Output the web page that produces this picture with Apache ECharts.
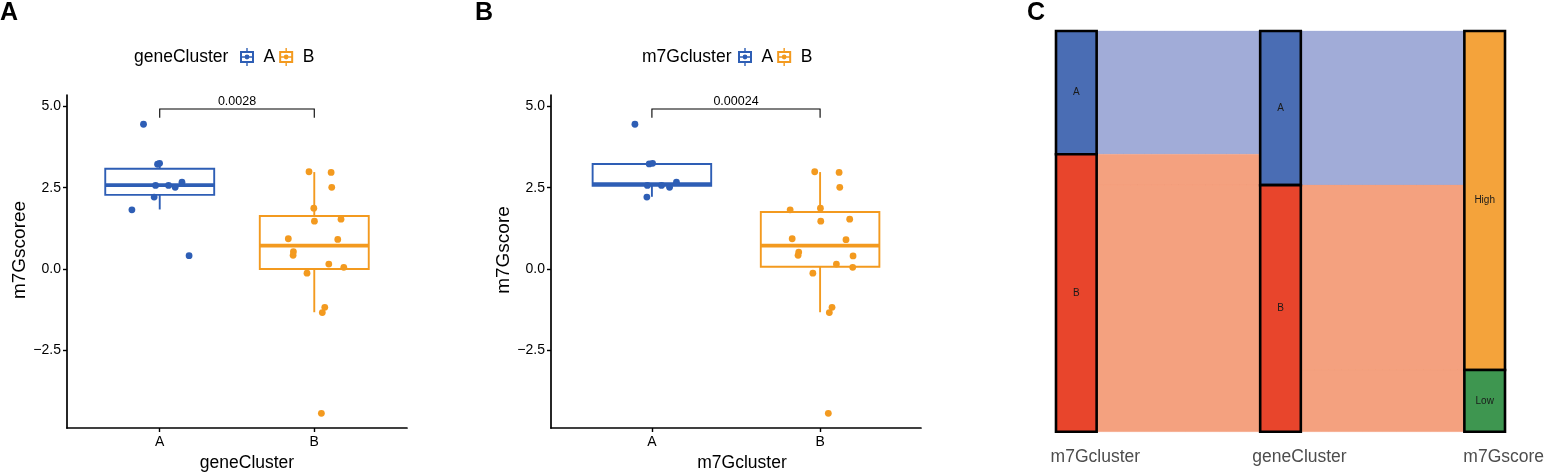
<!DOCTYPE html>
<html><head><meta charset="utf-8">
<script src="https://cdn.jsdelivr.net/npm/echarts@6/dist/echarts.min.js"></script>
<style>html,body{margin:0;padding:0;background:#fff}#c{width:1550px;height:474px}</style>
</head><body><div id="c"></div>
<script>
// ---------------- data ----------------
const groups = ['A', 'B'];
const yTicks = [-2.5, 0, 2.5, 5];

// Panel A : geneCluster
const geneA_vals = [4.45, 3.22, 3.25, 1.82, 2.57, 2.57, 2.51, 2.67, 2.21, 0.41];
const geneA_jit  = [-0.105, -0.014, -0.001, -0.18, -0.027, 0.057, 0.10, 0.144, -0.036, 0.19];
const geneB_vals = [2.99, 2.97, 2.51, 1.87, 1.47, 1.53, 0.93, 0.91, 0.53, 0.42, 0.15, 0.05, -0.13, -1.18, -1.34, -4.44];
const geneB_jit  = [-0.034, 0.109, 0.113, -0.003, 0.001, 0.173, -0.168, 0.152, -0.135, -0.137, 0.094, 0.191, -0.047, 0.068, 0.052, 0.046];
const geneBoxA = [1.83, 2.28, 2.58, 3.08, 3.25];   // lower whisker, Q1, median, Q3, upper whisker
const geneBoxB = [-1.33, 0.0, 0.72, 1.63, 2.98];
const geneP = '0.0028';

// Panel B : m7Gcluster
const m7gA_vals = [4.45, 3.23, 3.25, 2.57, 2.57, 2.51, 2.67, 2.21];
const m7gA_jit  = [-0.101, -0.016, 0.004, -0.027, 0.057, 0.105, 0.146, -0.03];
const m7gB_vals = [2.99, 2.97, 2.51, 1.82, 1.87, 1.47, 1.53, 0.93, 0.90, 0.52, 0.42, 0.40, 0.15, 0.05, -0.13, -1.18, -1.34, -4.44];
const m7gB_jit  = [-0.032, 0.113, 0.117, -0.178, 0.002, 0.004, 0.176, -0.166, 0.154, -0.127, -0.131, 0.196, 0.097, 0.194, -0.043, 0.071, 0.055, 0.049];
const m7gBoxA = [2.22, 2.56, 2.61, 3.23, 3.25];
const m7gBoxB = [-1.33, 0.07, 0.72, 1.75, 2.98];
const m7gP = '0.00024';

// Panel C : alluvial
const stages = ['m7Gcluster', 'geneCluster', 'm7Gscore'];
const stageNodes = [['A', 'B'], ['A', 'B'], ['High', 'Low']];
const flows12 = [['A', 'A', 8], ['B', 'A', 2], ['B', 'B', 16]];
const flows23 = [['A', 'High', 10], ['B', 'High', 12], ['B', 'Low', 4]];

// ---------------- styles ----------------
const BLUE = '#2E5EB5', ORANGE = '#F39A1F';
const SANS = "'Liberation Sans',Arial,sans-serif";
const nodeColor = {A: '#4A6DB4', B: '#E8452C', High: '#F4A33B', Low: '#3E9650'};
const flowColor = {A: '#A1ACD8', B: '#F4A17F'};
const BOXW = 0.705;

// ---------------- helpers ----------------
function boxRender(color) {
  return function (params, api) {
    const x = api.value(0), lo = api.value(1), q1 = api.value(2), md = api.value(3), q3 = api.value(4), hi = api.value(5);
    const hw = BOXW / 2;
    const tl = api.coord([x - hw, q3]), br = api.coord([x + hw, q1]);
    const m1 = api.coord([x - hw, md]), m2 = api.coord([x + hw, md]);
    const pLo = api.coord([x, lo]), pQ1 = api.coord([x, q1]), pQ3 = api.coord([x, q3]), pHi = api.coord([x, hi]);
    const st = {stroke: color, lineWidth: 1.9, fill: null};
    return {type: 'group', children: [
      {type: 'line', shape: {x1: pHi[0], y1: pHi[1], x2: pQ3[0], y2: pQ3[1]}, style: st},
      {type: 'line', shape: {x1: pQ1[0], y1: pQ1[1], x2: pLo[0], y2: pLo[1]}, style: st},
      {type: 'rect', shape: {x: tl[0], y: tl[1], width: br[0] - tl[0], height: br[1] - tl[1]}, style: {stroke: color, lineWidth: 1.9, fill: 'rgba(255,255,255,0)'}},
      {type: 'line', shape: {x1: m1[0], y1: m1[1], x2: m2[0], y2: m2[1]}, style: {stroke: color, lineWidth: 3.8}}
    ]};
  };
}
function bracketRender(label) {
  return function (params, api) {
    const yb = api.value(1), yt = api.value(2);
    const a0 = api.coord([1, yt]), a1 = api.coord([1, yb]), b1 = api.coord([2, yb]), b0 = api.coord([2, yt]);
    return {type: 'group', children: [
      {type: 'polyline', shape: {points: [a0, a1, b1, b0]}, style: {stroke: '#000', lineWidth: 1.1, fill: null}},
      {type: 'text', x: (a1[0] + b1[0]) / 2, y: a1[1] - 1, style: {text: label, fontSize: 12.5, fontFamily: SANS, fill: '#000', align: 'center', verticalAlign: 'bottom'}}
    ]};
  };
}
const legendIcon = 'path://M0,3H14V15H0Z M2,5V13H12V5Z M2,8.2H12V9.8H2Z M4.6,9A2.4,2.4 0 1,1 9.4,9A2.4,2.4 0 1,1 4.6,9Z M6.3,0H7.7V3H6.3Z M6.3,15H7.7V18H6.3Z';
const fmtY = v => v.toFixed(1).replace('-', '\u2212');

function boxAxes(gi, name, namePad) {
  return {
    x: {type: 'value', gridIndex: gi, min: 0.4, max: 2.6,
      axisLine: {show: true, onZero: false, lineStyle: {color: '#000', width: 1.7}},
      axisTick: {show: true, customValues: [1, 2], length: 4, lineStyle: {color: '#000', width: 1.4}},
      axisLabel: {customValues: [1, 2], formatter: v => groups[Math.round(v) - 1], fontSize: 14, fontFamily: SANS, color: '#000', margin: 7},
      splitLine: {show: false},
      name: name, nameLocation: 'middle', nameGap: 22,
      nameTextStyle: {fontSize: 17.5, fontFamily: SANS, color: '#000', padding: [0, 0, 0, namePad]}},
    y: {type: 'value', gridIndex: gi, min: -4.89, max: 5.35,
      axisLine: {show: true, onZero: false, lineStyle: {color: '#000', width: 1.7}},
      axisTick: {show: true, customValues: yTicks, length: 4, lineStyle: {color: '#000', width: 1.4}},
      axisLabel: {customValues: yTicks, formatter: fmtY, fontSize: 14, fontFamily: SANS, color: '#000', margin: 6},
      splitLine: {show: false}}
  };
}
const axA = boxAxes(0, 'geneCluster', 20);
const axB = boxAxes(1, 'm7Gcluster', 12);
axA.y.name = 'm7Gscoree'; axB.y.name = 'm7Gscore';
[axA.y, axB.y].forEach(a => {
  a.nameLocation = 'middle'; a.nameGap = 26; a.nameRotate = 90;
  a.nameTextStyle = {fontSize: 19, fontFamily: SANS, color: '#000', padding: [0, 0, 0, 23]};
});

// ---------------- alluvial layout (derived from flows) ----------------
const flowSets = [flows12, flows23];
function nodeTotals(s) {
  const t = {};
  stageNodes[s].forEach(n => t[n] = 0);
  if (s < flowSets.length) flowSets[s].forEach(f => t[f[0]] += f[2]);
  else flowSets[s - 1].forEach(f => t[f[1]] += f[2]);
  return t;
}
const nodeItems = [], nodeNames = [], nodeStart = [];
for (let s = 0; s < stages.length; s++) {
  const t = nodeTotals(s); let acc = 0; nodeStart[s] = {};
  stageNodes[s].forEach(n => { nodeItems.push([s, acc, acc + t[n]]); nodeNames.push(n); nodeStart[s][n] = acc; acc += t[n]; });
}
const TOTAL = nodeItems.filter(d => d[0] === 0).reduce((a, d) => Math.max(a, d[2]), 0);
const flowItems = [], flowSrc = [];
flowSets.forEach((fs, s) => {
  const outOff = Object.assign({}, nodeStart[s]), inOff = Object.assign({}, nodeStart[s + 1]);
  const bySrc = fs.slice().sort((a, b) => stageNodes[s].indexOf(a[0]) - stageNodes[s].indexOf(b[0]) || stageNodes[s + 1].indexOf(a[1]) - stageNodes[s + 1].indexOf(b[1]));
  const srcPos = new Map();
  bySrc.forEach(f => { srcPos.set(f, outOff[f[0]]); outOff[f[0]] += f[2]; });
  const byTgt = fs.slice().sort((a, b) => stageNodes[s + 1].indexOf(a[1]) - stageNodes[s + 1].indexOf(b[1]) || stageNodes[s].indexOf(a[0]) - stageNodes[s].indexOf(b[0]));
  byTgt.forEach(f => {
    const y0 = srcPos.get(f), t0 = inOff[f[1]]; inOff[f[1]] += f[2];
    flowItems.push([s, y0, y0 + f[2], t0, t0 + f[2]]); flowSrc.push(f[0]);
  });
});
const NODEHW = 0.0995;
function flowRender(params, api) {
  const s = api.value(0), a0 = api.value(1), a1 = api.value(2), b0 = api.value(3), b1 = api.value(4);
  const xs = s + NODEHW, xe = s + 1 - NODEHW, N = 24, top = [], bot = [];
  for (let i = 0; i <= N; i++) {
    const t = i / N, k = (1 - Math.cos(Math.PI * t)) / 2, x = xs + (xe - xs) * t;
    top.push(api.coord([x, a0 + (b0 - a0) * k]));
    bot.push(api.coord([x, a1 + (b1 - a1) * k]));
  }
  const c = flowColor[flowSrc[params.dataIndex]];
  return {type: 'polygon', shape: {points: top.concat(bot.reverse())}, style: {fill: c, stroke: c, lineWidth: 0.3}};
}
function nodeRender(params, api) {
  const s = api.value(0), y0 = api.value(1), y1 = api.value(2);
  const p0 = api.coord([s - NODEHW, y0]), p1 = api.coord([s + NODEHW, y1]);
  const n = nodeNames[params.dataIndex];
  return {type: 'rect', shape: {x: p0[0], y: p0[1], width: p1[0] - p0[0], height: p1[1] - p0[1]},
    style: {fill: nodeColor[n], stroke: '#000', lineWidth: 2.6},
    textContent: {style: {text: n, fontSize: 10, fontFamily: SANS, fill: '#1a1a1a'}},
    textConfig: {position: 'inside'}};
}

// ---------------- option ----------------
const chart = echarts.init(document.getElementById('c'), null, {renderer: 'canvas'});
const titleStyle = {fontSize: 25, fontWeight: 'bold', fontFamily: SANS, color: '#000'};
const legStyle = {fontSize: 17.5, fontWeight: 'normal', fontFamily: SANS, color: '#000'};
const option = {
  backgroundColor: '#fff',
  animation: false,
  title: [
    {text: 'A', left: 0, top: 1, padding: 0, textStyle: titleStyle},
    {text: 'B', left: 475, top: 1, padding: 0, textStyle: titleStyle},
    {text: 'C', left: 1027, top: 1, padding: 0, textStyle: titleStyle},
    {text: 'geneCluster', left: 134, top: 48, padding: 0, textStyle: legStyle},
    {text: 'm7Gcluster', left: 642, top: 48, padding: 0, textStyle: legStyle}
  ],
  legend: [
    {data: [{name: 'A', icon: legendIcon}, {name: 'B', icon: legendIcon}], left: 240, top: 48, itemWidth: 15, itemHeight: 18, itemGap: 4, padding: 0,
      itemStyle: {borderWidth: 0}, textStyle: Object.assign({padding: [0, 0, 0, 4]}, legStyle), selectedMode: false},
    {data: [{name: 'A', icon: legendIcon}, {name: 'B', icon: legendIcon}], left: 738, top: 48, itemWidth: 15, itemHeight: 18, itemGap: 4, padding: 0,
      itemStyle: {borderWidth: 0}, textStyle: Object.assign({padding: [0, 0, 0, 4]}, legStyle), selectedMode: false}
  ],
  grid: [
    {left: 67, top: 95, width: 340, height: 333, outerBoundsMode: 'none'},
    {left: 551, top: 95, width: 370, height: 333, outerBoundsMode: 'none'},
    {left: 1055.9, top: 31, width: 449.2, height: 400.7, outerBoundsMode: 'none'}
  ],
  xAxis: [axA.x, axB.x,
    {type: 'value', gridIndex: 2, min: -0.1, max: 2.1, axisLine: {show: false}, axisTick: {show: false}, splitLine: {show: false},
      axisLabel: {customValues: [0, 1, 2], formatter: v => stages[Math.round(v)], fontSize: 17.5, fontFamily: SANS, color: '#4D4D4D', margin: 16, padding: [0, 0, 0, 38]}}
  ],
  yAxis: [axA.y, axB.y,
    {type: 'value', gridIndex: 2, min: 0, max: TOTAL, inverse: true, show: false}
  ],
  series: [
    // Panel A
    {type: 'custom', name: 'A', xAxisIndex: 0, yAxisIndex: 0, itemStyle: {color: BLUE}, renderItem: boxRender(BLUE), data: [[1].concat(geneBoxA)], z: 2},
    {type: 'custom', name: 'B', xAxisIndex: 0, yAxisIndex: 0, itemStyle: {color: ORANGE}, renderItem: boxRender(ORANGE), data: [[2].concat(geneBoxB)], z: 2},
    {type: 'scatter', name: 'A', xAxisIndex: 0, yAxisIndex: 0, symbolSize: 6.8, itemStyle: {color: BLUE, opacity: 1}, data: geneA_vals.map((v, i) => [1 + geneA_jit[i], v]), z: 3},
    {type: 'scatter', name: 'B', xAxisIndex: 0, yAxisIndex: 0, symbolSize: 6.8, itemStyle: {color: ORANGE, opacity: 1}, data: geneB_vals.map((v, i) => [2 + geneB_jit[i], v]), z: 3},
    {type: 'custom', xAxisIndex: 0, yAxisIndex: 0, renderItem: bracketRender(geneP), data: [[1.5, 4.92, 4.65]], z: 4, silent: true},
    // Panel B
    {type: 'custom', name: 'A', xAxisIndex: 1, yAxisIndex: 1, itemStyle: {color: BLUE}, renderItem: boxRender(BLUE), data: [[1].concat(m7gBoxA)], z: 2},
    {type: 'custom', name: 'B', xAxisIndex: 1, yAxisIndex: 1, itemStyle: {color: ORANGE}, renderItem: boxRender(ORANGE), data: [[2].concat(m7gBoxB)], z: 2},
    {type: 'scatter', name: 'A', xAxisIndex: 1, yAxisIndex: 1, symbolSize: 6.8, itemStyle: {color: BLUE, opacity: 1}, data: m7gA_vals.map((v, i) => [1 + m7gA_jit[i], v]), z: 3},
    {type: 'scatter', name: 'B', xAxisIndex: 1, yAxisIndex: 1, symbolSize: 6.8, itemStyle: {color: ORANGE, opacity: 1}, data: m7gB_vals.map((v, i) => [2 + m7gB_jit[i], v]), z: 3},
    {type: 'custom', xAxisIndex: 1, yAxisIndex: 1, renderItem: bracketRender(m7gP), data: [[1.5, 4.92, 4.65]], z: 4, silent: true},
    // Panel C
    {type: 'custom', xAxisIndex: 2, yAxisIndex: 2, renderItem: flowRender, data: flowItems, z: 1, silent: true},
    {type: 'custom', xAxisIndex: 2, yAxisIndex: 2, renderItem: nodeRender, data: nodeItems, z: 2, silent: true}
  ]
};
chart.setOption(option);
</script></body></html>
